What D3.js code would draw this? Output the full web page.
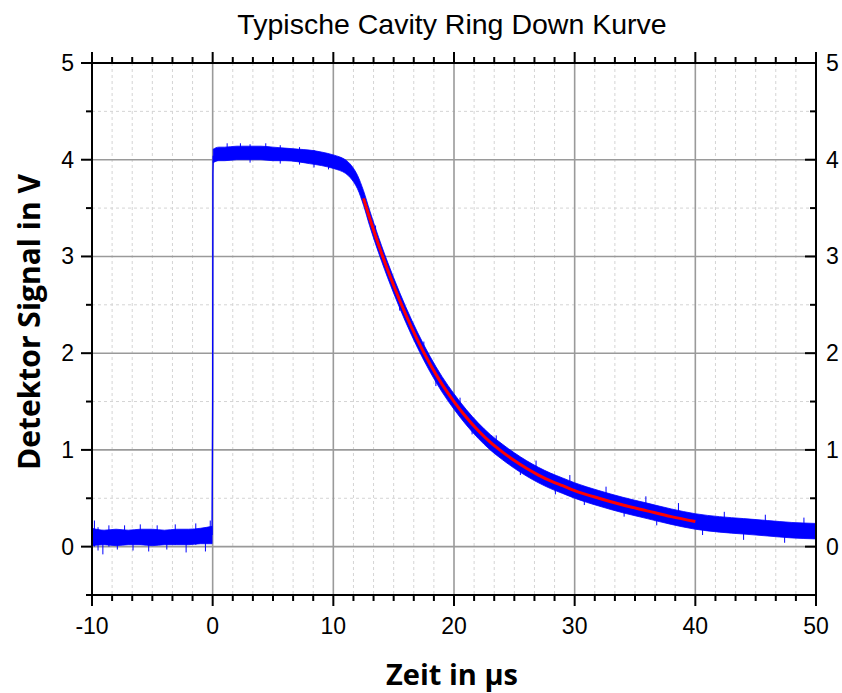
<!DOCTYPE html>
<html>
<head>
<meta charset="utf-8">
<script src="https://cdn.jsdelivr.net/npm/d3@7"></script>
<style>
body { margin: 0; background: #fff; }
svg { display: block; }
.tick-label { font-family: "Liberation Sans", Arial, sans-serif; font-size: 23px; fill: #000; }
.title { font-family: "Liberation Sans", Arial, sans-serif; font-size: 28.5px; fill: #000; }
.axis-label { font-family: "Open Sans", sans-serif; font-size: 29px; font-weight: bold; fill: #000; }
</style>
</head>
<body>
<div id="chart"></div>
<script>
// axis ticks
var xTicks = [-10, 0, 10, 20, 30, 40, 50];
var yTicks = [0, 1, 2, 3, 4, 5];

// measured trace, baseline before the laser switches on
var baseT  = [-10, -9, -8, -7, -6, -5, -4, -3, -2, -1, -0.05];
var baseLo = [0.01, 0.02, 0.01, 0.02, 0.02, 0.01, 0.02, 0.02, 0.02, 0.03, 0.03];
var baseHi = [0.19, 0.17, 0.18, 0.17, 0.18, 0.18, 0.17, 0.18, 0.18, 0.19, 0.21];

// the steep rise at t = 0
var riseT = [-0.05, 0, 0.02, 0.05];
var riseV = [0.12, 1.5, 3.85, 4.04];

// plateau and ring down part of the trace (upper / lower edge of the noisy band)
var traceT  = [0.05, 0.5, 1, 2, 3, 4, 5, 6, 7, 8, 9, 10, 10.5, 11, 11.5, 12, 12.5, 13, 14, 15, 16, 17, 18, 19, 20, 21, 22, 23, 24, 25, 26, 27, 28, 29, 30, 32, 34, 36, 38, 40, 42, 44, 46, 48, 50];
var traceLo = [3.97, 3.99, 3.99, 4.00, 4.00, 4.00, 3.99, 3.99, 3.98, 3.96, 3.94, 3.91, 3.89, 3.86, 3.80, 3.70, 3.53, 3.32, 2.95, 2.62, 2.32, 2.05, 1.81, 1.60, 1.42, 1.26, 1.12, 1.00, 0.90, 0.81, 0.73, 0.66, 0.60, 0.55, 0.50, 0.42, 0.35, 0.29, 0.23, 0.18, 0.15, 0.13, 0.11, 0.09, 0.08];
var traceHi = [4.11, 4.13, 4.13, 4.14, 4.14, 4.14, 4.13, 4.12, 4.11, 4.10, 4.08, 4.05, 4.03, 4.00, 3.94, 3.84, 3.68, 3.48, 3.11, 2.78, 2.48, 2.21, 1.97, 1.76, 1.58, 1.42, 1.28, 1.16, 1.06, 0.97, 0.89, 0.82, 0.76, 0.71, 0.66, 0.58, 0.51, 0.45, 0.39, 0.34, 0.31, 0.29, 0.27, 0.25, 0.24];

// single noise spikes sticking out of the band
var spikeT  = [-9.8, -9.5, -9.1, -8.6, -7.9, -7.3, -6.6, -6.0, -5.3, -4.6, -3.8, -3.1, -2.2, -1.4, -0.6, -0.2,
               1.2, 2.3, 3.1, 4.4, 5.6, 7.2, 8.4, 9.6,
               13.5, 15.5, 17.5, 18.5, 20.5, 21.5, 23.5, 25.5, 26.8, 28.4, 29.6, 30.8, 32.6, 34.1, 35.9, 36.8, 38.6,
               40.6, 42.4, 44.0, 45.8, 47.4, 49.0];
var spikeLo = [0.00, -0.04, -0.08, 0.00, -0.03, 0.02, -0.04, 0.02, -0.05, 0.03, -0.03, 0.02, -0.06, 0.02, -0.05, 0.05,
               4.00, 4.02, 3.97, 4.00, 3.96, 3.95, 3.92, 3.90,
               3.20, 2.44, 1.98, 1.66, 1.40, 1.16, 1.01, 0.74, 0.73, 0.54, 0.58, 0.43, 0.46, 0.31, 0.35, 0.22, 0.28,
               0.12, 0.20, 0.07, 0.17, 0.04, 0.14];
var spikeHi = [0.27, 0.20, 0.10, 0.22, 0.12, 0.22, 0.10, 0.23, 0.12, 0.22, 0.10, 0.23, 0.10, 0.24, 0.10, 0.27,
               4.17, 4.17, 4.16, 4.17, 4.15, 4.13, 4.10, 4.05,
               3.32, 2.58, 2.12, 1.80, 1.54, 1.29, 1.15, 0.87, 0.89, 0.68, 0.74, 0.57, 0.62, 0.45, 0.52, 0.37, 0.45,
               0.26, 0.36, 0.22, 0.33, 0.19, 0.30];

// exponential fit (red)
var fitT = [12.5, 13, 14, 15, 16, 17, 18, 19, 20, 21, 22, 23, 24, 25, 26, 27, 28, 29, 30, 32, 34, 36, 38, 40];
var fitV = [3.60, 3.40, 3.03, 2.70, 2.40, 2.13, 1.89, 1.68, 1.50, 1.34, 1.20, 1.08, 0.98, 0.89, 0.81, 0.74, 0.68, 0.63, 0.58, 0.50, 0.43, 0.37, 0.31, 0.26];

var W = 842, H = 693;
var pLeft = 92, pRight = 816, pTop = 63, pBottom = 595;

var x = d3.scaleLinear().domain([-10, 50]).range([pLeft, pRight]);
var y = d3.scaleLinear().domain([-0.5, 5]).range([pBottom, pTop]);

var xMinor = d3.range(-10, 50.01, 10 / 6);
var yMinor = d3.range(-0.5, 5.01, 0.5);

function isMajorX(d){ return Math.abs(d - Math.round(d)) < 0.01 && Math.round(d) % 10 == 0; }
function isMajorY(d){ return Math.abs(d - Math.round(d)) < 0.01; }

var svg = d3.select("#chart").append("svg")
	.attr("width", W)
	.attr("height", H);

// minor grid (dashed)
var grid = svg.append("g").attr("class", "grid");
grid.selectAll("line.minx")
	.data(xMinor.filter(function(d){ return !isMajorX(d); }))
	.enter().append("line")
	.attr("x1", function(d){ return x(d); })
	.attr("x2", function(d){ return x(d); })
	.attr("y1", pTop).attr("y2", pBottom)
	.attr("stroke", "#d4d4d4").attr("stroke-width", 1).attr("stroke-dasharray", "3,3");
grid.selectAll("line.miny")
	.data(yMinor.filter(function(d){ return !isMajorY(d); }))
	.enter().append("line")
	.attr("y1", function(d){ return y(d); })
	.attr("y2", function(d){ return y(d); })
	.attr("x1", pLeft).attr("x2", pRight)
	.attr("stroke", "#d4d4d4").attr("stroke-width", 1).attr("stroke-dasharray", "3,3");

// major grid
grid.selectAll("line.majx")
	.data(xTicks.slice(1, -1))
	.enter().append("line")
	.attr("x1", function(d){ return x(d); })
	.attr("x2", function(d){ return x(d); })
	.attr("y1", pTop).attr("y2", pBottom)
	.attr("stroke", "#9a9a9a").attr("stroke-width", 1.6);
grid.selectAll("line.majy")
	.data(yTicks.slice(0, -1))
	.enter().append("line")
	.attr("y1", function(d){ return y(d); })
	.attr("y2", function(d){ return y(d); })
	.attr("x1", pLeft).attr("x2", pRight)
	.attr("stroke", "#9a9a9a").attr("stroke-width", 1.6);

// blue trace
var band = d3.area()
	.x(function(d){ return x(d[0]); })
	.y0(function(d){ return y(d[1]); })
	.y1(function(d){ return y(d[2]); })
	.curve(d3.curveMonotoneX);

var basePts = baseT.map(function(t, i){ return [t, baseLo[i], baseHi[i]]; });
var tracePts = traceT.map(function(t, i){ return [t, traceLo[i], traceHi[i]]; });

svg.append("path")
	.attr("d", band(basePts))
	.attr("fill", "#0000ff").attr("stroke", "#0000ff").attr("stroke-width", 0.8);
svg.append("path")
	.attr("d", band(tracePts))
	.attr("fill", "#0000ff").attr("stroke", "#0000ff").attr("stroke-width", 0.8);

var line = d3.line()
	.x(function(d){ return x(d[0]); })
	.y(function(d){ return y(d[1]); });

svg.append("path")
	.attr("d", line(riseT.map(function(t, i){ return [t, riseV[i]]; })))
	.attr("fill", "none").attr("stroke", "#0000ff").attr("stroke-width", 1.4);

svg.selectAll("line.spike")
	.data(spikeT)
	.enter().append("line")
	.attr("x1", function(d){ return x(d); })
	.attr("x2", function(d){ return x(d); })
	.attr("y1", function(d, i){ return y(spikeLo[i]); })
	.attr("y2", function(d, i){ return y(spikeHi[i]); })
	.attr("stroke", "#0000ff").attr("stroke-width", 1);

// red fit
svg.append("path")
	.attr("d", line.curve(d3.curveMonotoneX)(fitT.map(function(t, i){ return [t, fitV[i]]; })))
	.attr("fill", "none").attr("stroke", "#ff0000").attr("stroke-width", 3);

// frame
svg.append("rect")
	.attr("x", pLeft).attr("y", pTop)
	.attr("width", pRight - pLeft).attr("height", pBottom - pTop)
	.attr("fill", "none").attr("stroke", "#000").attr("stroke-width", 2);

// ticks: bottom, top and left point outwards, right points inwards
var ticks = svg.append("g").attr("stroke", "#000").attr("stroke-width", 2);
xMinor.forEach(function(d){
	var len = isMajorX(d) ? 11 : 6;
	ticks.append("line").attr("x1", x(d)).attr("x2", x(d)).attr("y1", pBottom).attr("y2", pBottom + len);
	ticks.append("line").attr("x1", x(d)).attr("x2", x(d)).attr("y1", pTop).attr("y2", pTop - len);
});
yMinor.forEach(function(d){
	var len = isMajorY(d) ? 11 : 6;
	ticks.append("line").attr("y1", y(d)).attr("y2", y(d)).attr("x1", pLeft).attr("x2", pLeft - len);
	ticks.append("line").attr("y1", y(d)).attr("y2", y(d)).attr("x1", pRight).attr("x2", pRight - len);
});

// tick labels
svg.selectAll("text.xl")
	.data(xTicks)
	.enter().append("text")
	.attr("class", "tick-label")
	.attr("x", function(d){ return x(d); })
	.attr("y", 634)
	.attr("text-anchor", "middle")
	.text(function(d){ return d; });
svg.selectAll("text.yl")
	.data(yTicks)
	.enter().append("text")
	.attr("class", "tick-label")
	.attr("x", 74)
	.attr("y", function(d){ return y(d) + 8; })
	.attr("text-anchor", "end")
	.text(function(d){ return d; });
svg.selectAll("text.yr")
	.data(yTicks)
	.enter().append("text")
	.attr("class", "tick-label")
	.attr("x", 826)
	.attr("y", function(d){ return y(d) + 8; })
	.attr("text-anchor", "start")
	.text(function(d){ return d; });

// title and axis titles
svg.append("text")
	.attr("class", "title")
	.attr("x", 452).attr("y", 34)
	.attr("text-anchor", "middle")
	.text("Typische Cavity Ring Down Kurve");

svg.append("text")
	.attr("class", "axis-label")
	.attr("x", 452).attr("y", 685)
	.attr("text-anchor", "middle")
	.text("Zeit in µs");

svg.append("text")
	.attr("class", "axis-label")
	.attr("transform", "translate(40,322) rotate(-90)")
	.attr("text-anchor", "middle")
	.style("font-size", "30px")
	.text("Detektor Signal in V");
</script>
</body>
</html>
